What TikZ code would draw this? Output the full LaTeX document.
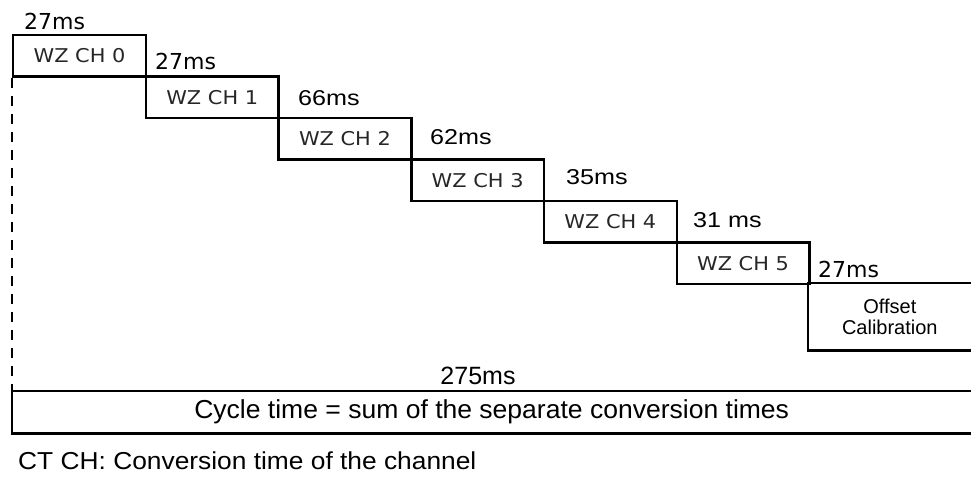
\documentclass[tikz,border=0pt]{standalone}
\usepackage{fontspec}
\setmainfont{Liberation Sans}
\newfontfamily\dvs{DejaVu Sans}
\newcommand\xwide[2][1.2]{\scalebox{#1}[1]{#2}}
\begin{document}
\begin{tikzpicture}[x=1pt,y=-1pt,
 chbox/.style={draw,line width=2.4pt,inner sep=0,minimum width=132.7pt,minimum height=41.5pt,anchor=north west,font=\dvs\fontsize{19}{19}\selectfont,text=black!85},
 lightlab/.style={anchor=base west,inner sep=0,font=\dvs\fontsize{22}{22}\selectfont},
 boldlab/.style={anchor=base west,inner sep=0,font=\fontsize{21.5}{21.5}\selectfont},
 edge/.style={line width=2.4pt}]
\useasboundingbox (0,0) rectangle (971,478);
\node[chbox] (c0) at (12,34) {\xwide[1.1]{WZ CH 0}};
\node[chbox] (c1) at (144.7,75.5) {\xwide[1.1]{WZ CH 1}};
\node[chbox] (c2) at (277.4,117) {\xwide[1.1]{WZ CH 2}};
\node[chbox] (c3) at (410.1,158.5) {\xwide[1.1]{WZ CH 3}};
\node[chbox] (c4) at (542.8,200) {\xwide[1.1]{WZ CH 4}};
\node[chbox] (c5) at (675.5,241.5) {\xwide[1.1]{WZ CH 5}};
\node[inner sep=0,minimum width=162.8pt,minimum height=67pt,anchor=north west,align=center,font=\fontsize{20}{21}\selectfont] (off) at (808.2,283) {Offset\\Calibration};
\draw[edge] (off.north east) -- (off.north west) -- (off.south west) -- (off.south east);
\node[inner sep=0,minimum width=959pt,minimum height=42pt,anchor=north west,font=\fontsize{26}{26}\selectfont] (cyc) at (12,391) {\xwide[1.02]{Cycle time = sum of the separate conversion times}};
\draw[edge] (cyc.north east) -- (cyc.north west) -- (cyc.south west) -- (cyc.south east);
\draw[edge,dash pattern=on 10pt off 8pt] (c0.south west) -- (cyc.north west);
\node[lightlab] (l0) at (24,30) {27ms};
\node[lightlab] (l1) at (155,70) {27ms};
\node[boldlab] (l2) at (298,106) {\xwide[1.17]{66ms}};
\node[boldlab] (l3) at (430,145) {\xwide[1.17]{62ms}};
\node[boldlab] (l4) at (566,185) {\xwide[1.17]{35ms}};
\node[boldlab] (l5) at (693,228) {\xwide[1.17]{31 ms}};
\node[lightlab] (l6) at (818,277) {27ms};
\node[anchor=base,inner sep=0,font=\fontsize{25}{25}\selectfont] (tot) at (478,384) {275ms};
\node[anchor=base west,inner sep=0,font=\fontsize{24.5}{25}\selectfont] (note) at (18,469) {\xwide[1.075]{CT CH: Conversion time of the channel}};
\end{tikzpicture}
\end{document}
